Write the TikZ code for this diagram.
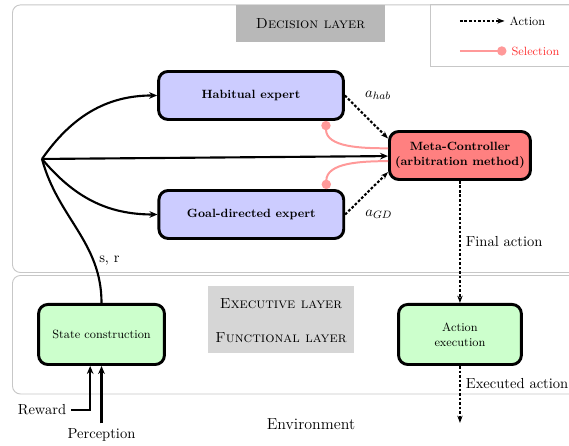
\documentclass[tikz,border=0pt,11pt]{standalone}
\usetikzlibrary{arrows.meta}
\usetikzlibrary{positioning}

\tikzset{
  layerframe/.style={draw=black!22, line width=0.7pt, rounded corners=6pt},
  layertag/.style={fill=black!16, font=\scshape, inner sep=2pt},
  expert/.style={draw, line width=2.2pt, rounded corners=7pt, fill=blue!20, font=\footnotesize\bfseries, minimum width=4.89cm, minimum height=1.27cm},
  module/.style={draw, line width=2.2pt, rounded corners=7pt, fill=green!20, font=\footnotesize, align=center, minimum height=1.59cm},
  flowline/.style={line width=1.6pt},
  flow/.style={flowline, -{Stealth[length=6pt,width=5pt]}},
  actionarrow/.style={line width=1.6pt, dash pattern=on 2pt off 1.4pt, -{Stealth[length=5.5pt,width=4pt]}},
  selectline/.style={draw=red!40, line width=1.5pt, -{Circle[length=7pt]}}
}

\begin{document}
\begin{tikzpicture}
\useasboundingbox (0,0) rectangle (15.055,11.8);
\clip (0,0) rectangle (15.055,11.8);

\draw[layerframe] (0.33,4.59) rectangle (16,11.67);
\draw[layerframe] (0.33,1.376) rectangle (16,4.511);
\draw[draw=black!22, line width=0.7pt] (11.40,10.05) rectangle (16,11.67);

\node[layertag, fill=black!28, minimum width=3.94cm, minimum height=0.98cm] (decision) at (8.215,11.178) {Decision layer};
\node[layertag, minimum width=3.86cm, minimum height=0.95cm] (executive) at (7.435,3.757) {Executive layer};
\node[layertag, minimum width=3.86cm, minimum height=0.8cm, below=0pt of executive] (functional) {Functional layer};

\node[expert] (habitual) at (6.641,9.274) {Habitual expert};
\node[expert] (goal) at (6.65,6.125) {Goal-directed expert};
\node[expert, fill=red!50, minimum width=3.73cm, align=center] (meta) at (12.17,7.686) {Meta-Controller\\(arbitration method)};
\node[module, minimum width=3.33cm] (state) at (2.686,2.95) {State construction};
\node[module, minimum width=3.25cm] (execution) at (12.17,2.95) {Action\\execution};

\coordinate (split) at (1.111,7.594);
\draw[flow] (split) to[out=55,in=180] (habitual.west);
\draw[flow] (split) to[out=-50,in=180] (goal.west);
\draw[flow] (split) -- (meta);
\draw[flowline] (state.north) to[out=90,in=-75] node[pos=0.27,right] {s, r} (split);

\draw[selectline] ([yshift=0.19cm]meta.west) to[out=180,in=-90] ([xshift=-0.5cm]habitual.south east);
\draw[selectline] ([yshift=-0.15cm]meta.west) to[out=180,in=90] ([xshift=-0.5cm]goal.north east);
\draw[actionarrow] (habitual.east) -- ([yshift=0.45cm]meta.west);
\draw[actionarrow] (goal.east) -- ([yshift=-0.44cm]meta.west);
\node[right=0.4cm of habitual.east] (ahab) {$a_{hab}$};
\node[right=0.4cm of goal.east] (agd) {$a_{GD}$};

\draw[actionarrow] (meta) -- node[midway,right] {Final action} (execution);
\coordinate (envout) at (12.17,0.609);
\draw[actionarrow] (execution) -- node[pos=0.3,right] {Executed action} (envout);

\node (reward) at (1.111,0.9525) {Reward};
\node (perception) at (2.686,0.291) {Perception};
\node[font=\large] (environment) at (8.228,0.582) {Environment};
\draw[flow] (reward.east) -| ([xshift=-0.3cm]state.south);
\draw[flow] (perception) -- (state);

\coordinate (actstart) at (12.17,11.245);
\node[right, font=\footnotesize] (actlbl) at (13.35,11.245) {Action};
\draw[actionarrow] (actstart) -- (actlbl.west);
\coordinate (selstart) at (12.17,10.451);
\node[right, font=\footnotesize, text=red!80] (sellbl) at (13.40,10.451) {Selection};
\draw[selectline] (selstart) -- (sellbl.west);

\end{tikzpicture}
\end{document}
